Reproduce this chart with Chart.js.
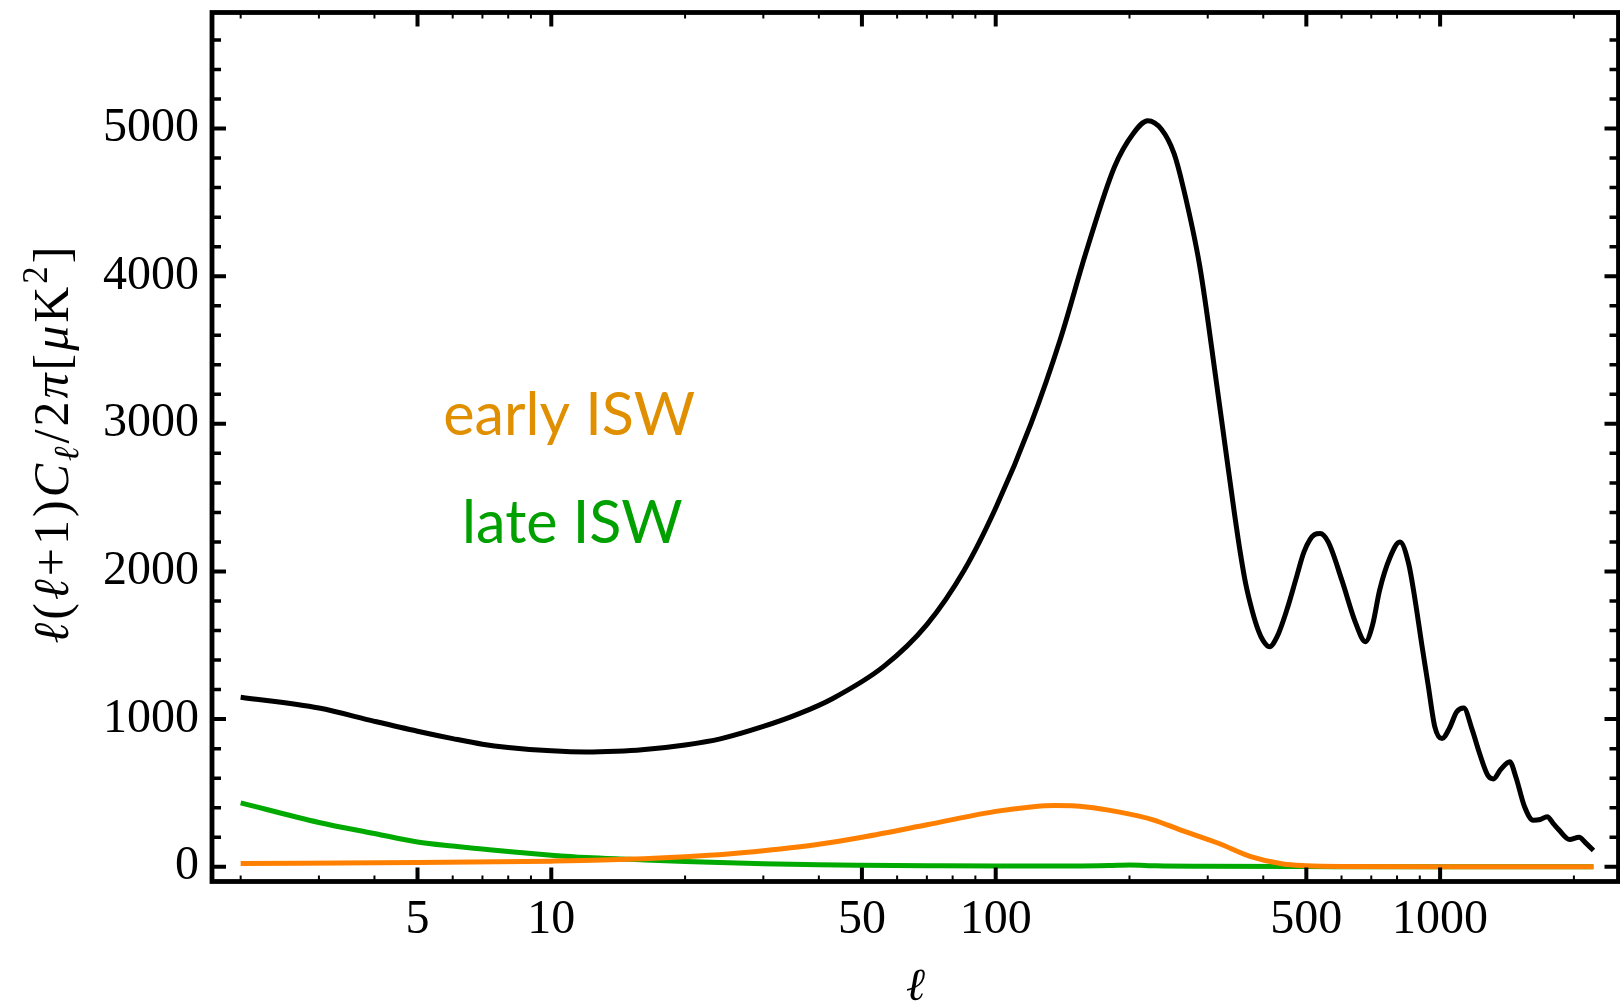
<!DOCTYPE html>
<html>
<head>
<meta charset="utf-8">
<script src="https://cdn.jsdelivr.net/npm/chart.js@4.4.0/dist/chart.umd.min.js"></script>
<style>
html, body { margin: 0; padding: 0; background: #fff; }
#wrap { width: 1620px; height: 1006px; }
</style>
</head>
<body>
<div id="wrap"><canvas id="clChart" width="1620" height="1006"></canvas></div>
<script>
// total spectrum (black)
const totalEll = [2, 3, 4, 5, 6, 7, 8, 10, 12, 14, 16, 20, 24, 30, 36, 43, 56, 70, 85, 100,
    120, 140, 160, 185, 204, 220, 236, 252, 264, 288, 314, 330, 345, 355, 365, 378, 390, 400,
    413, 430, 452, 475, 494, 522, 537, 560, 601, 646, 679, 705, 731, 770, 812, 850, 877, 910, 940, 973,
    1010, 1050, 1090, 1130, 1180, 1227, 1280, 1318, 1370, 1435, 1480, 1549, 1620, 1680, 1741, 1800,
    1853, 1955, 2055, 2120, 2213];
const totalCl = [1148, 1075, 985, 918, 868, 830, 808, 785, 777, 782, 792, 825, 866, 950, 1035, 1140, 1357, 1640, 2010, 2430,
    3000, 3580, 4170, 4740, 4967, 5053, 4995, 4830, 4606, 4064, 3274, 2800, 2380, 2130, 1920, 1730, 1600, 1530,
    1490, 1560, 1740, 1960, 2133, 2250, 2257, 2200, 1941, 1648, 1524, 1640, 1874, 2090, 2200, 2050, 1820, 1500, 1230, 948,
    868, 940, 1050, 1075, 930, 767, 620, 595, 660, 711, 610, 406, 315, 320, 339, 290,
    248, 185, 200, 165, 110];

// early ISW (orange)
const earlyEll = [2, 5, 10, 13, 20, 25, 30, 40, 50, 70, 100, 120, 136, 160, 190, 226, 260, 317, 375, 443, 500, 600, 1000, 2213];
const earlyCl = [22, 28, 38, 45, 68, 86, 108, 152, 200, 284, 375, 405, 414, 405, 370, 318, 250, 159, 68, 18, 7, 2, 0, 0];

// late ISW (green)
const lateEll = [2, 3, 4, 5, 6, 7, 8, 10, 12, 15, 20, 30, 40, 50, 70, 100, 150, 180, 200, 230, 300, 500, 1000, 2213];
const lateCl = [433, 300, 225, 168, 140, 120, 103, 78, 62, 50, 35, 20, 13, 10, 7, 5, 5, 8, 12, 6, 3, 1, 0, 0];

// axis ticks
const xMajor = [5, 10, 50, 100, 500, 1000];
const xMinor = [2, 3, 4, 6, 7, 8, 9, 20, 30, 40, 60, 70, 80, 90, 200, 300, 400, 600, 700, 800, 900, 2000];
const yMajor = [0, 1000, 2000, 3000, 4000, 5000];
const yMinor = [200, 400, 600, 800, 1200, 1400, 1600, 1800, 2200, 2400, 2600, 2800, 3200, 3400, 3600, 3800,
    4200, 4400, 4600, 4800, 5200, 5400, 5600];

const toPoints = (xs, ys) => xs.map((v, i) => ({x: v, y: ys[i]}));

// Mathematica-like frame with inward ticks, y title and text labels
const framePlugin = {
    id: 'framePlugin',
    afterDraw(chart) {
        const {ctx, chartArea: a, scales: {x, y}} = chart;
        ctx.save();
        ctx.strokeStyle = '#000';
        ctx.lineCap = 'butt';

        //y ticks, left and right
        const yTicks = (vals, len, w) => {
            ctx.lineWidth = w;
            vals.forEach(v => {
                const py = y.getPixelForValue(v);
                ctx.beginPath();
                ctx.moveTo(a.left, py); ctx.lineTo(a.left + len, py);
                ctx.moveTo(a.right, py); ctx.lineTo(a.right - len, py);
                ctx.stroke();
            });
        };
        yTicks(yMajor, 14, 4);
        yTicks(yMinor, 9, 3.5);

        //x ticks, bottom and top
        const xTicks = (vals, len, w) => {
            ctx.lineWidth = w;
            vals.forEach(v => {
                const px = x.getPixelForValue(v);
                ctx.beginPath();
                ctx.moveTo(px, a.bottom); ctx.lineTo(px, a.bottom - len);
                ctx.moveTo(px, a.top); ctx.lineTo(px, a.top + len);
                ctx.stroke();
            });
        };
        xTicks(xMajor, 14, 4);
        xTicks(xMinor, 6, 2);

        //frame
        ctx.lineWidth = 4.8;
        ctx.strokeRect(a.left, a.top, a.right - a.left, a.bottom - a.top);

        //y axis title: l(l+1)C_l/2pi[muK^2]
        const fs = 50;
        const serif = "'Liberation Serif', 'Times New Roman', serif";
        const parts = [
            ['\u2113', 'italic', 1, 0],
            ['(', 'normal', 1, 0],
            ['\u2113', 'italic', 1, 0],
            ['+', 'normal', 1, 0],
            ['1', 'normal', 1, 0],
            [')', 'normal', 1, 0],
            ['C', 'italic', 1, 0],
            ['\u2113', 'italic', 0.7, 0.2],
            ['/', 'normal', 1, 0],
            ['2', 'normal', 1, 0],
            ['\u03c0', 'italic', 1, 0],
            ['[', 'normal', 1, 0],
            ['\u03bc', 'italic', 1, 0],
            ['K', 'normal', 1, 0],
            ['2', 'normal', 0.7, -0.42],
            [']', 'normal', 1, 0]
        ];
        const gap = 3;
        let total = 0;
        const widths = parts.map(p => {
            ctx.font = `${p[1]} ${Math.round(fs * p[2])}px ${serif}`;
            const w = ctx.measureText(p[0]).width;
            total += w + gap;
            return w;
        });
        total -= gap;
        ctx.translate(68, 445);
        ctx.rotate(-Math.PI / 2);
        ctx.fillStyle = '#000';
        ctx.textBaseline = 'alphabetic';
        ctx.textAlign = 'left';
        let pos = -total / 2;
        parts.forEach((p, i) => {
            ctx.font = `${p[1]} ${Math.round(fs * p[2])}px ${serif}`;
            ctx.fillText(p[0], pos, p[3] * fs);
            pos += widths[i] + gap;
        });
        ctx.restore();

        //curve labels
        ctx.save();
        const sans = "Lato, 'Open Sans', sans-serif";
        ctx.font = `100px ${sans}`;
        const size = 100 * 252 / ctx.measureText('early ISW').width;
        ctx.font = `${size}px ${sans}`;
        ctx.textBaseline = 'alphabetic';
        ctx.fillStyle = '#e08f00';
        ctx.fillText('early ISW', x.getPixelForValue(5.71), y.getPixelForValue(2924));
        ctx.fillStyle = '#00a000';
        ctx.fillText('late ISW', x.getPixelForValue(6.3), y.getPixelForValue(2193));
        ctx.restore();
    }
};

const clChart = new Chart(document.getElementById('clChart'), {
    type: 'line',
    data: {
        datasets: [{
            label: 'early ISW',
            data: toPoints(earlyEll, earlyCl),
            borderColor: 'rgb(255, 128, 0)',
            borderWidth: 5,
            pointRadius: 0,
            cubicInterpolationMode: 'monotone'
        }, {
            label: 'late ISW',
            data: toPoints(lateEll, lateCl),
            borderColor: 'rgb(0, 170, 0)',
            borderWidth: 5,
            pointRadius: 0,
            cubicInterpolationMode: 'monotone'
        }, {
            label: 'total',
            data: toPoints(totalEll, totalCl),
            borderColor: '#000',
            borderWidth: 5,
            pointRadius: 0,
            cubicInterpolationMode: 'monotone'
        }]
    },
    options: {
        responsive: false,
        animation: false,
        devicePixelRatio: 1,
        layout: {padding: {left: 0, top: 12.5, right: 1.5, bottom: 0}},
        plugins: {legend: {display: false}, tooltip: {enabled: false}},
        scales: {
            x: {
                type: 'logarithmic',
                min: 1.724,
                max: 2520,
                grid: {display: false, drawTicks: false},
                border: {display: false},
                afterBuildTicks: scale => {
                    scale.ticks = xMajor.concat(xMinor).sort((p, q) => p - q).map(v => ({value: v}));
                },
                afterFit: scale => {
                    scale.height = 124.5;
                    scale.paddingLeft = 0;
                    scale.paddingRight = 0;
                },
                ticks: {
                    autoSkip: false,
                    maxRotation: 0,
                    minRotation: 0,
                    padding: 10,
                    color: '#000',
                    font: {family: "'Liberation Serif', serif", size: 48},
                    callback: v => xMajor.includes(v) ? String(v) : ''
                },
                title: {
                    display: true,
                    text: '\u2113',
                    color: '#000',
                    padding: 0,
                    font: {family: "'Liberation Serif', serif", style: 'italic', size: 46, lineHeight: 0.8}
                }
            },
            y: {
                type: 'linear',
                min: -100,
                max: 5786,
                grid: {display: false, drawTicks: false},
                border: {display: false},
                afterBuildTicks: scale => {
                    scale.ticks = yMajor.map(v => ({value: v}));
                },
                afterFit: scale => {
                    scale.width = 212;
                    scale.paddingTop = 0;
                    scale.paddingBottom = 0;
                },
                ticks: {
                    padding: 13,
                    color: '#000',
                    font: {family: "'Liberation Serif', serif", size: 48},
                    callback: v => String(v)
                }
            }
        }
    },
    plugins: [framePlugin]
});
</script>
</body>
</html>
